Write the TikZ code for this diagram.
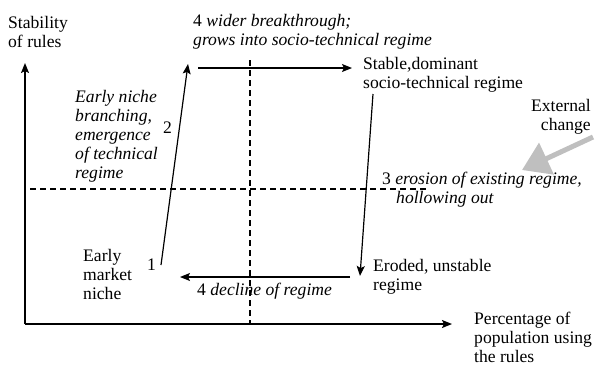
\documentclass[tikz,border=0pt]{standalone}
\usepackage{fontspec}
\setmainfont{Liberation Serif}
\usepackage{tikz}
\usetikzlibrary{arrows.meta,positioning}
\tikzset{
  ejes/.style={-{Stealth[length=10pt,width=8pt,inset=2pt]},line width=1.4pt},
  flecha/.style={-{Stealth[length=10pt,width=8pt,inset=2pt]},line width=1.2pt},
  guia/.style={dash pattern=on 6pt off 4pt,line width=1.5pt},
  cambio/.style={-{Triangle[length=27pt,width=34pt]},line width=5pt,black!25},
  txt/.style={inner sep=0pt,anchor=base west,align=left,font=\fontsize{17.6}{19}\selectfont}
}

\begin{document}
\begin{tikzpicture}[x=1pt,y=-1pt]
\useasboundingbox (0,0) rectangle (597,367);
\coordinate (o) at (25,324); \coordinate (ytop) at (25,63); \coordinate (xend) at (452,324);
\coordinate (hd1) at (30,189); \coordinate (hd2) at (428,189);
\coordinate (vd1) at (250,60); \coordinate (vd2) at (250,324);
\coordinate (a1) at (161,265); \coordinate (a2) at (188,64);
\coordinate (b1) at (198,68); \coordinate (b2) at (352,68);
\coordinate (c1) at (373,94); \coordinate (c2) at (360,276);
\coordinate (d1) at (350,277); \coordinate (d2) at (180,277);
\coordinate (e1) at (593,137); \coordinate (e2) at (522,170);
\draw[ejes] (o)--(ytop); \draw[ejes] (o)--(xend);
\draw[guia] (hd1)--(hd2); \draw[guia] (vd1)--(vd2);
\draw[flecha] (a1)--(a2); \draw[flecha] (b1)--(b2);
\draw[flecha] (c1)--(c2); \draw[flecha] (d1)--(d2);
\draw[cambio] (e1)--(e2);
\node[txt] (stab) at (8,47) {Stability\\of rules};
\node[txt] (brk) at (193,45) {4 \textit{wider breakthrough;}\\\textit{grows into socio-technical regime}};
\node[txt] (estable) at (363,88) {Stable,dominant\\socio-technical regime};
\node[txt,anchor=base east,align=right] (ext) at (591,130) {External\\change};
\node[txt] (erosion) at (382,203) {3 \textit{erosion of existing regime,}\\\hspace*{14pt}\textit{hollowing out}};
\node[txt] (nicho) at (75,178) {\textit{Early niche}\\\textit{branching,}\\\textit{emergence}\\\textit{of technical}\\\textit{regime}};
\node[txt] (dos) at (163,133) {2};
\node[txt] (mercado) at (83,299) {Early\\market\\niche};
\node[txt] (uno) at (147,270) {1};
\node[txt] (declive) at (197,295) {4 \textit{decline of regime}};
\node[txt] (erosionado) at (373,290) {Eroded, unstable\\regime};
\node[txt] (porc) at (474,362) {Percentage of\\population using\\the rules};
\end{tikzpicture}
\end{document}
